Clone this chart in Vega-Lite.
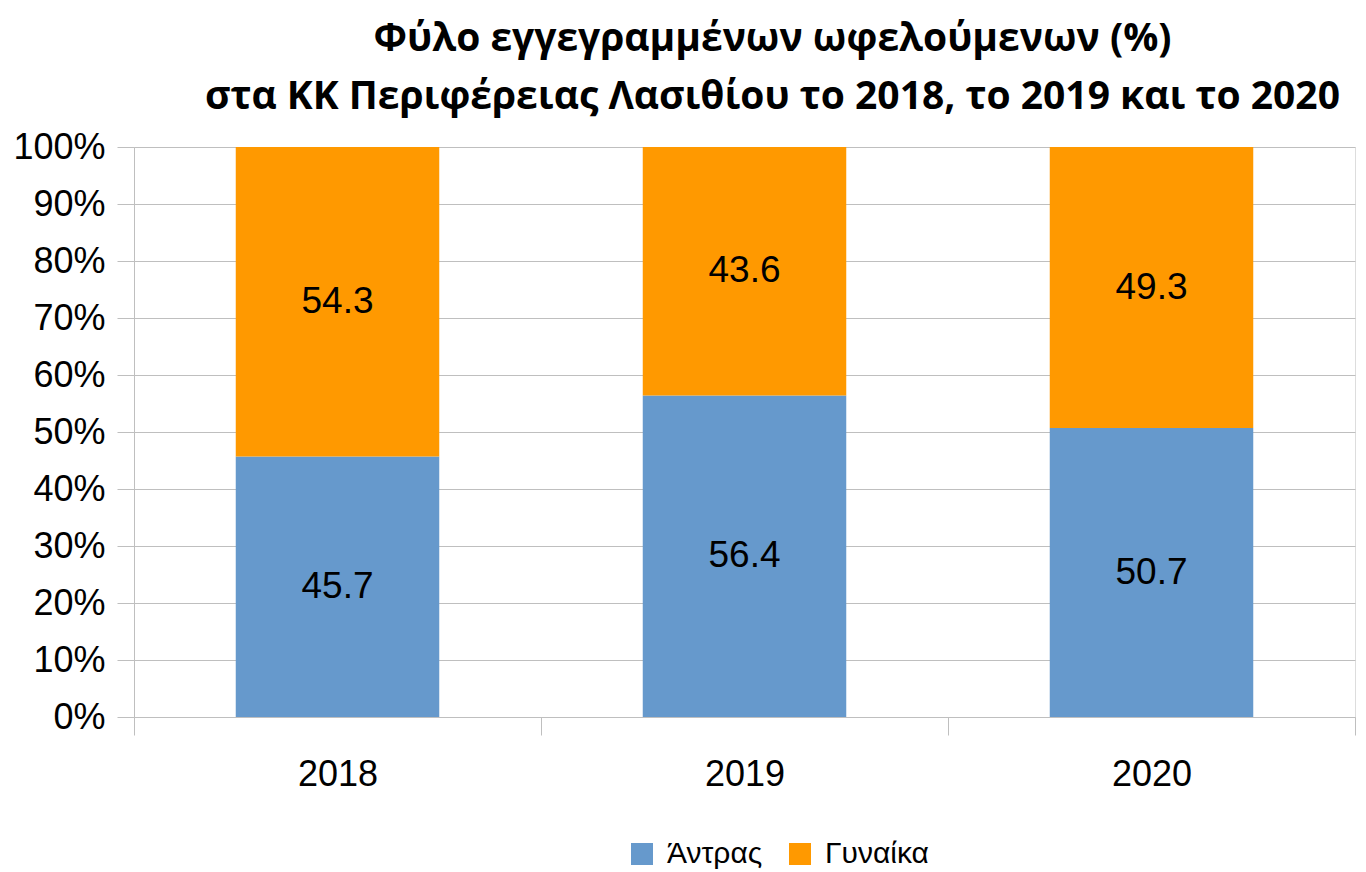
{
  "$schema": "https://vega.github.io/schema/vega-lite/v6.json",
  "autosize": {"type": "none"},
  "padding": {"left": 134, "top": 147, "right": 11, "bottom": 155},
  "width": 1221,
  "height": 570,
  "background": "white",
  "title": {
    "text": ["Φύλο εγγεγραμμένων ωφελούμενων (%)", "στα ΚΚ Περιφέρειας Λασιθίου το 2018, το 2019 και το 2020"],
    "font": "Open Sans",
    "fontWeight": "bold",
    "fontSize": 39,
    "lineHeight": 58,
    "color": "black",
    "anchor": "middle",
    "dx": 28,
    "offset": 12
  },
  "data": {
    "values": [
      {"year": "2018", "sex": "Άντρας", "order": 1, "value": 45.7},
      {"year": "2018", "sex": "Γυναίκα", "order": 2, "value": 54.3},
      {"year": "2019", "sex": "Άντρας", "order": 1, "value": 56.4},
      {"year": "2019", "sex": "Γυναίκα", "order": 2, "value": 43.6},
      {"year": "2020", "sex": "Άντρας", "order": 1, "value": 50.7},
      {"year": "2020", "sex": "Γυναίκα", "order": 2, "value": 49.3}
    ]
  },
  "transform": [
    {"stack": "value", "groupby": ["year"], "sort": [{"field": "order", "order": "ascending"}], "as": ["v0", "v1"]},
    {"calculate": "(datum.v0 + datum.v1) / 2", "as": "mid"}
  ],
  "encoding": {
    "x": {
      "field": "year",
      "type": "nominal",
      "scale": {"paddingInner": 0, "paddingOuter": 0},
      "axis": {
        "title": null,
        "labelAngle": 0,
        "labelFont": "Liberation Sans",
        "labelFontSize": 36,
        "labelColor": "black",
        "labelPadding": 22,
        "tickBand": "extent",
        "tickSize": 18,
        "tickColor": "#BFBFBF",
        "domainColor": "#BFBFBF",
        "grid": false
      }
    }
  },
  "layer": [
    {
      "mark": {"type": "bar", "width": {"band": 0.5}},
      "encoding": {
        "y": {
          "field": "v0",
          "type": "quantitative",
          "scale": {"domain": [0, 100]},
          "axis": {
            "title": null,
            "values": [0, 10, 20, 30, 40, 50, 60, 70, 80, 90, 100],
            "labelExpr": "datum.value + '%'",
            "labelFont": "Liberation Sans",
            "labelFontSize": 36,
            "labelColor": "black",
            "labelPadding": 12,
            "tickSize": 17,
            "tickColor": "#BFBFBF",
            "domainColor": "#BFBFBF",
            "gridColor": "#BFBFBF",
            "grid": true
          }
        },
        "y2": {"field": "v1"},
        "color": {
          "field": "sex",
          "type": "nominal",
          "scale": {"domain": ["Άντρας", "Γυναίκα"], "range": ["#6699CC", "#FF9900"]},
          "legend": {
            "title": null,
            "orient": "none",
            "direction": "horizontal",
            "legendX": 493,
            "legendY": 692,
            "symbolType": "square",
            "symbolSize": 484,
            "symbolStrokeWidth": 0,
            "labelFont": "Liberation Sans",
            "labelFontSize": 30,
            "labelColor": "black",
            "labelOffset": 10,
            "columnPadding": 22
          }
        }
      }
    },
    {
      "mark": {"type": "text", "font": "Liberation Sans", "fontSize": 37, "color": "black", "baseline": "middle", "align": "center"},
      "encoding": {
        "y": {"field": "mid", "type": "quantitative", "scale": {"domain": [0, 100]}},
        "text": {"field": "value", "type": "quantitative", "format": ".1f"}
      }
    }
  ]
}
